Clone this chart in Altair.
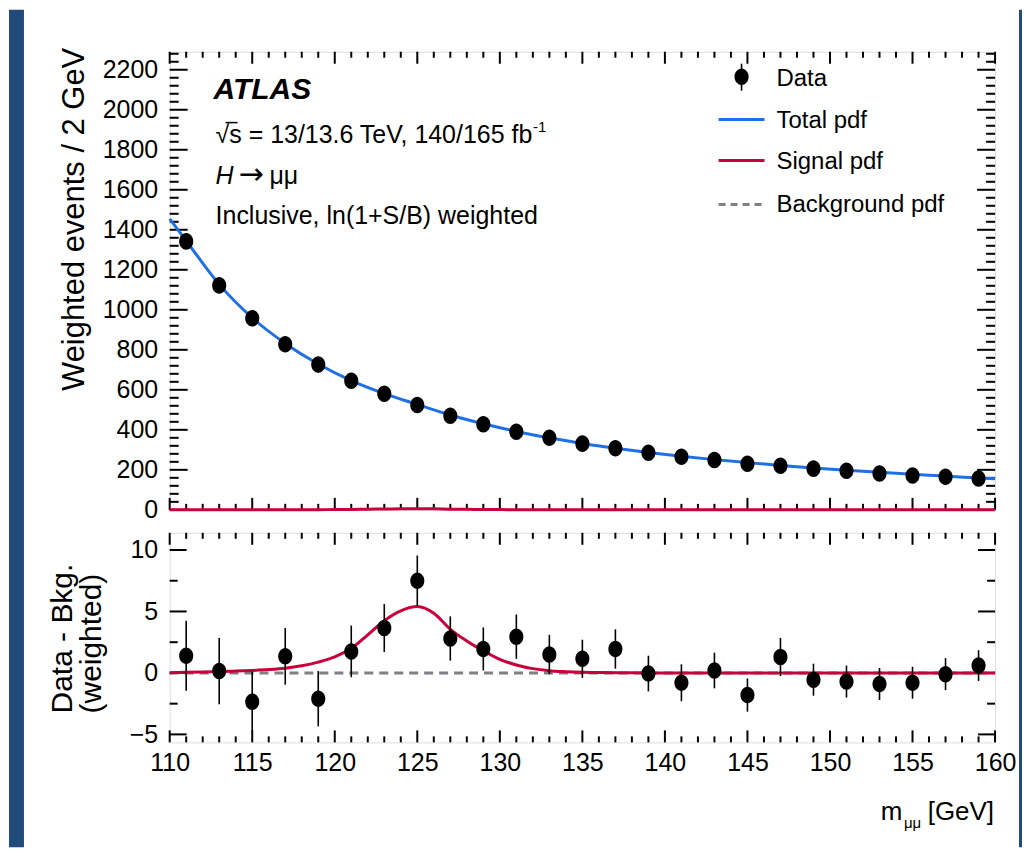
import altair as alt
import pandas as pd

# ---------------- data ----------------
bin_centers = [111, 113, 115, 117, 119, 121, 123, 125, 127, 129, 131, 133, 135,
               137, 139, 141, 143, 145, 147, 149, 151, 153, 155, 157, 159]
weighted_events = [1342, 1122, 958, 828, 726, 645, 580, 524, 470, 428, 390, 360, 331,
                   308, 285, 265, 249, 230, 220, 206, 195, 182, 172, 165, 157]
resid_values = [1.4, 0.15, -2.35, 1.35, -2.1, 1.75, 3.65, 7.5, 2.8, 1.95, 2.95, 1.5, 1.15,
                1.95, -0.05, -0.8, 0.2, -1.8, 1.3, -0.55, -0.7, -0.9, -0.8, -0.1, 0.6]
resid_errors = [2.85, 2.7, 2.45, 2.3, 2.25, 2.1, 1.95, 2.05, 1.8, 1.75, 1.8, 1.6, 1.55,
                1.6, 1.45, 1.5, 1.45, 1.35, 1.55, 1.3, 1.3, 1.3, 1.3, 1.3, 1.25]

total_x = [110, 111, 113, 115, 117, 119, 121, 123, 125, 127, 129, 131, 133, 135,
           137, 139, 141, 143, 145, 147, 149, 151, 153, 155, 157, 159, 160]
total_y = [1455, 1345, 1127, 960, 832, 729, 646, 581, 527, 474, 430, 392, 360, 332,
           308, 287, 268, 251, 236, 222, 209, 198, 188, 178, 169, 159, 155]

signal_x = [110, 112, 113, 114, 115, 116, 117, 118, 119, 120, 121, 122, 123, 124, 125,
            126, 127, 128, 129, 130, 131, 132, 133, 134, 135, 136, 138, 140, 150, 160]
signal_y = [0.02, 0.08, 0.11, 0.15, 0.2, 0.27, 0.38, 0.58, 0.88, 1.3, 2.0, 3.1, 4.25, 5.05, 5.4,
            4.85, 3.55, 2.6, 1.8, 1.1, 0.65, 0.35, 0.18, 0.1, 0.05, 0.03, 0.01, 0.0, 0.0, 0.0]

bkg_x = [110, 160]
bkg_resid = [0, 0]

top_y_major = [0, 200, 400, 600, 800, 1000, 1200, 1400, 1600, 1800, 2000, 2200]
top_y_minor = [v for v in range(40, 2290, 40) if v % 200 != 0]
x_major = [110, 115, 120, 125, 130, 135, 140, 145, 150, 155, 160]
x_minor = [v for v in range(111, 160) if v % 5 != 0]
bot_y_major = [-5, 0, 5, 10]
bot_y_minor = [-2.5, 2.5, 7.5]

# ---------------- styling ----------------
FONT = "Liberation Sans"
BLUE = "#1f6fe6"
RED = "#c8003c"
GRAY = "#7f7f86"
BG = "#214a7d"
W, HT, HB = 827, 459, 210
ELLIPSE = "M0,-1 A0.85,1 0 1,1 0,1 A0.85,1 0 1,1 0,-1 Z"
MSIZE = 275

one = pd.DataFrame({"k": [0]})
xs = alt.Scale(domain=[110, 160], nice=False, zero=False)
yst = alt.Scale(domain=[0, 2290], nice=False, zero=False)
ysb = alt.Scale(domain=[-5.65, 11.4], nice=False, zero=False)

ax_top_y = alt.Axis(values=top_y_major, format="d", labelFontSize=25, labelFont=FONT,
                    labelColor="black", ticks=False, tickSize=0, domain=False, grid=False,
                    labelPadding=12, labelFlush=False, labelOverlap=False, zindex=1)
ax_bot_y = alt.Axis(values=bot_y_major, format="d", labelFontSize=25, labelFont=FONT,
                    labelColor="black", ticks=False, tickSize=0, domain=False, grid=False,
                    labelPadding=12, labelFlush=False, labelOverlap=False, zindex=1)
ax_bot_x = alt.Axis(values=x_major, format="d", labelFontSize=25, labelFont=FONT,
                    labelColor="black", ticks=False, tickSize=0, domain=False, grid=False,
                    labelPadding=8, labelFlush=False, labelOverlap=False, zindex=1)


def text(txt, x, y, size=25, align="left", baseline="alphabetic", font=FONT, **kw):
    return alt.Chart(one).mark_text(text=txt, fontSize=size, font=font, color="black",
                                    align=align, baseline=baseline, **kw).encode(
        x=alt.value(x), y=alt.value(y))


def rect(x, x2, y, y2, color):
    return alt.Chart(one).mark_rect(color=color, opacity=1).encode(
        x=alt.value(x), x2=alt.value(x2), y=alt.value(y), y2=alt.value(y2))


def yticks(vals, scale, axis, length):
    d = pd.DataFrame({"v": vals})
    left = alt.Chart(d).mark_rule(color="black", strokeWidth=2).encode(
        y=alt.Y("v:Q", scale=scale, axis=axis, title=None), x=alt.value(0), x2=alt.value(length))
    right = alt.Chart(d).mark_rule(color="black", strokeWidth=2).encode(
        y=alt.Y("v:Q", scale=scale, axis=axis, title=None), x=alt.value(W - length), x2=alt.value(W))
    return [left, right]


def xticks(vals, xaxis, h, length):
    d = pd.DataFrame({"v": vals})
    bottom = alt.Chart(d).mark_rule(color="black", strokeWidth=2).encode(
        x=alt.X("v:Q", scale=xs, axis=xaxis, title=None), y=alt.value(h), y2=alt.value(h - length))
    top = alt.Chart(d).mark_rule(color="black", strokeWidth=2).encode(
        x=alt.X("v:Q", scale=xs, axis=xaxis, title=None), y=alt.value(0), y2=alt.value(length))
    return [bottom, top]


def marker(chart):
    return chart.mark_point(shape=ELLIPSE, filled=True, size=MSIZE, color="black",
                            opacity=1, strokeWidth=0)


# ---------------- top panel ----------------
df_pts = pd.DataFrame({"m": bin_centers, "w": weighted_events})
df_tot = pd.DataFrame({"m": total_x, "w": total_y})
df_sig = pd.DataFrame({"m": signal_x, "w": signal_y})

deco = [
    rect(-161, -146, -42, 797, BG),
    rect(851, 854, -42, 797, BG),
]

top_layers = deco + yticks(top_y_major, yst, ax_top_y, 18) + yticks(top_y_minor, yst, ax_top_y, 9) \
    + xticks(x_major, None, HT, 12) + xticks(x_minor, None, HT, 6)

top_layers += [
    alt.Chart(df_sig).mark_line(color=RED, strokeWidth=3, interpolate="monotone").encode(
        x=alt.X("m:Q", scale=xs, axis=None), y=alt.Y("w:Q", scale=yst, axis=ax_top_y, title=None)),
    alt.Chart(df_tot).mark_line(color=BLUE, strokeWidth=3, interpolate="monotone").encode(
        x=alt.X("m:Q", scale=xs, axis=None), y=alt.Y("w:Q", scale=yst, axis=ax_top_y, title=None)),
    marker(alt.Chart(df_pts)).encode(
        x=alt.X("m:Q", scale=xs, axis=None), y=alt.Y("w:Q", scale=yst, axis=ax_top_y, title=None)),
    # annotations
    text("ATLAS", 44, 47, size=30, fontWeight="bold", fontStyle="italic"),
    text("\u221as = 13/13.6 TeV, 140/165 fb", 46, 91),
    alt.Chart(one).mark_rule(color="black", strokeWidth=1.5).encode(
        x=alt.value(56), x2=alt.value(68), y=alt.value(71)),
    text("-1", 364, 80, size=15),
    text("H", 46, 133, fontStyle="italic"),
    text("\u2192", 69, 133, size=30, font="DejaVu Sans"),
    text("\u03bc\u03bc", 100, 133),
    text("Inclusive, ln(1+S/B) weighted", 46, 173),
    text("Weighted events / 2 GeV", -86, -4, size=31, align="right", angle=270),
    # legend
    alt.Chart(one).mark_rule(color="black", strokeWidth=1.6).encode(
        x=alt.value(573), y=alt.value(12), y2=alt.value(39)),
    marker(alt.Chart(one)).encode(x=alt.value(573), y=alt.value(25)),
    alt.Chart(one).mark_rule(color=BLUE, strokeWidth=3).encode(
        x=alt.value(550), x2=alt.value(596), y=alt.value(68)),
    alt.Chart(one).mark_rule(color=RED, strokeWidth=3).encode(
        x=alt.value(550), x2=alt.value(596), y=alt.value(109)),
    alt.Chart(one).mark_rule(color=GRAY, strokeWidth=3, strokeDash=[7, 5]).encode(
        x=alt.value(550), x2=alt.value(596), y=alt.value(153)),
    text("Data", 608, 34, size=24),
    text("Total pdf", 608, 76, size=24),
    text("Signal pdf", 608, 117, size=24),
    text("Background pdf", 608, 161, size=24),
]

top = alt.layer(*top_layers).properties(width=W, height=HT)

# ---------------- bottom panel ----------------
df_res = pd.DataFrame({"m": bin_centers, "r": resid_values, "e": resid_errors})
df_res["lo"] = df_res["r"] - df_res["e"]
df_res["hi"] = df_res["r"] + df_res["e"]
df_bkg = pd.DataFrame({"m": bkg_x, "r": bkg_resid})
df_sig2 = pd.DataFrame({"m": signal_x, "r": signal_y})

bot_layers = yticks(bot_y_major, ysb, ax_bot_y, 17) + yticks(bot_y_minor, ysb, ax_bot_y, 8) \
    + xticks(x_major, ax_bot_x, HB, 12) + xticks(x_minor, ax_bot_x, HB, 6)

bot_layers += [
    alt.Chart(df_bkg).mark_line(color=GRAY, strokeWidth=3, strokeDash=[9, 6]).encode(
        x=alt.X("m:Q", scale=xs, axis=ax_bot_x, title=None),
        y=alt.Y("r:Q", scale=ysb, axis=ax_bot_y, title=None)),
    alt.Chart(df_sig2).mark_line(color=RED, strokeWidth=3, interpolate="monotone").encode(
        x=alt.X("m:Q", scale=xs, axis=ax_bot_x, title=None),
        y=alt.Y("r:Q", scale=ysb, axis=ax_bot_y, title=None)),
    alt.Chart(df_res).mark_rule(color="black", strokeWidth=1.6).encode(
        x=alt.X("m:Q", scale=xs, axis=ax_bot_x, title=None),
        y=alt.Y("lo:Q", scale=ysb, axis=ax_bot_y, title=None), y2="hi:Q"),
    marker(alt.Chart(df_res)).encode(
        x=alt.X("m:Q", scale=xs, axis=ax_bot_x, title=None),
        y=alt.Y("r:Q", scale=ysb, axis=ax_bot_y, title=None)),
    text("Data - Bkg.", -98, 181, size=30, angle=270),
    text("(weighted)", -69, 181, size=30, angle=270),
    text("m", 734, 288, size=26, align="right"),
    text("\u03bc\u03bc", 753, 296, size=15, align="right"),
    text("[GeV]", 826, 288, size=26, align="right"),
]

bottom = alt.layer(*bot_layers).properties(width=W, height=HB)

chart = alt.vconcat(top, bottom, spacing=23, bounds="flush").properties(
    padding=0, background="white"
).configure_view(
    fill="white", stroke="black", strokeWidth=2
).configure(font=FONT)

chart.save("out.html", embed_options={"renderer": "svg", "actions": False})
